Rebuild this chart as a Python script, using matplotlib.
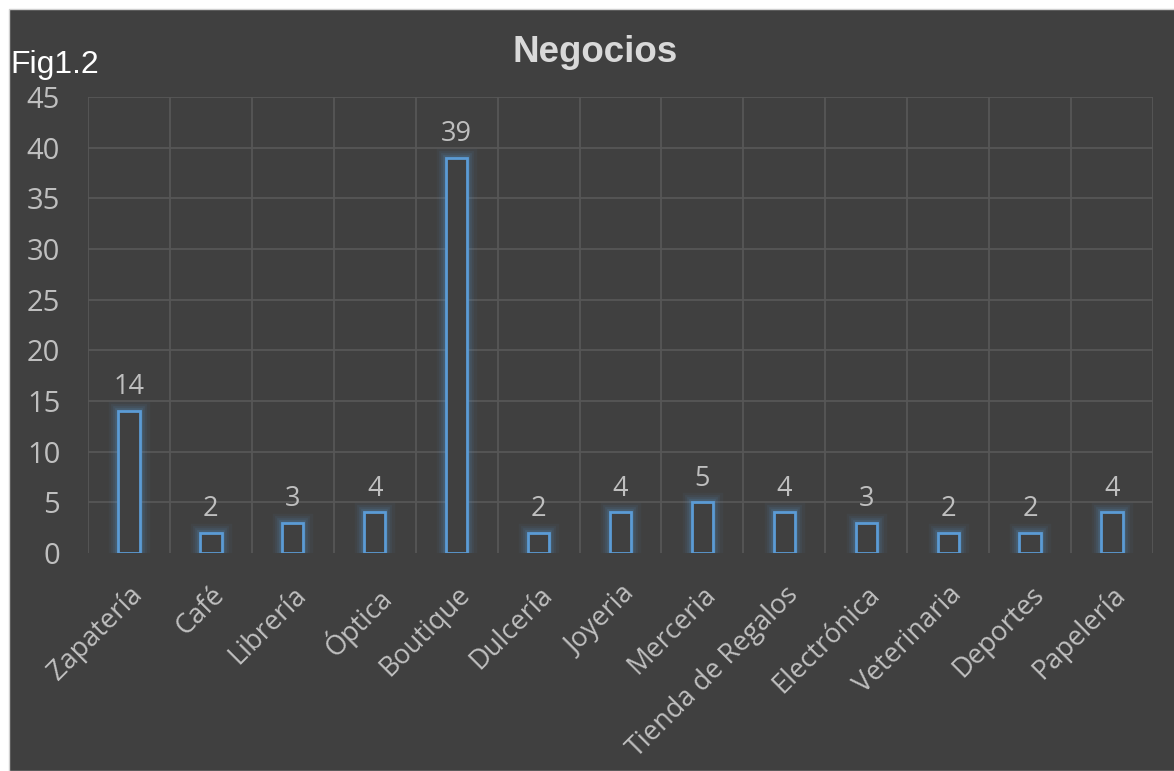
import numpy as np
import matplotlib.pyplot as plt
from matplotlib.patches import Rectangle

categories = ['Zapatería', 'Café', 'Librería', 'Óptica', 'Boutique', 'Dulcería',
              'Joyeria', 'Merceria', 'Tienda de Regalos', 'Electrónica',
              'Veterinaria', 'Deportes', 'Papelería']
counts = [14, 2, 3, 4, 39, 2, 4, 5, 4, 3, 2, 2, 4]
y_ticks = [0, 5, 10, 15, 20, 25, 30, 35, 40, 45]

bg = '#404040'
grid_col = '#575757'
bar_col = '#5B9BD5'
text_col = '#BFBFBF'
label_font = 'Open Sans'

fig = plt.figure(figsize=(11.74, 7.71), dpi=100, facecolor='white')
# dark chart panel with a thin light margin on the top and left
fig.patches.append(Rectangle((9 / 1174, 0), 1, 1 - 9 / 771, transform=fig.transFigure,
                             facecolor=bg, edgecolor='#D0D0D0', linewidth=1, zorder=-10))

ax = fig.add_axes([88 / 1174, 1 - 553 / 771, (1153 - 88) / 1174, (553 - 97) / 771])
ax.set_zorder(5)
ax.patch.set_alpha(0)

x = np.arange(len(categories))
ax.set_xlim(-0.5, len(categories) - 0.5)
ax.set_ylim(0, 45)

# grid: horizontal at each tick, vertical at category boundaries
for yv in y_ticks[1:]:
    ax.axhline(yv, color=grid_col, linewidth=1.3, zorder=1)
for b in np.arange(-0.5, len(categories) + 0.5, 1):
    ax.axvline(b, color=grid_col, linewidth=1.3, zorder=1)

# soft glow under the hollow bars
width = 0.26
for lw, a in [(14, 0.05), (10, 0.07), (7, 0.10), (4, 0.16)]:
    ax.bar(x, counts, width=width, facecolor='none', edgecolor=bar_col,
           linewidth=lw, alpha=a, zorder=2)
ax.bar(x, counts, width=width, facecolor=bg, edgecolor=bar_col, linewidth=2, zorder=3)

for xi, v in zip(x, counts):
    ax.annotate(str(v), (xi, v), xytext=(0, 7), textcoords='offset points',
                ha='center', va='bottom', color=text_col, fontsize=19.5, family=label_font)

for s in ax.spines.values():
    s.set_visible(False)

ax.set_yticks(y_ticks)
ax.set_yticklabels([str(t) for t in y_ticks], fontsize=21, color=text_col, family=label_font)
ax.tick_params(axis='y', length=0, pad=20)

ax.set_xticks(x)
ax.set_xticklabels(categories, rotation=45, ha='right', rotation_mode='anchor',
                   fontsize=19.5, color=text_col, family=label_font)
ax.tick_params(axis='x', length=0, pad=20)

fig.text(595 / 1174, 1 - 53 / 771, 'Negocios', ha='center', va='center',
         fontsize=26.5, fontweight='bold', color='#D9D9D9', family='Liberation Sans')
fig.text(10 / 1174, 1 - 65 / 771, 'Fig1.2', ha='left', va='center',
         fontsize=23, color='white', family='Liberation Sans')

fig.savefig('out.png', dpi=100, facecolor='white')
